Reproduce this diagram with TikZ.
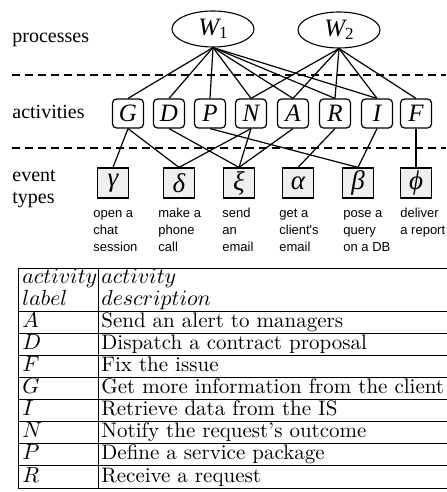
\documentclass[tikz,border=0pt]{standalone}
\usepackage{fontspec}
\newfontfamily\tmsfont{Liberation Serif}
\newfontfamily\hlvfont{Liberation Sans}
\usetikzlibrary{shapes.geometric}
\definecolor{evgray}{HTML}{EFEFEF}
\begin{document}
\begin{tikzpicture}[x=0.5pt,y=-0.5pt,
  proc/.style={ellipse, draw, line width=0.55pt, minimum width=41pt,
    minimum height=18pt, inner sep=0pt},
  actbox/.style={draw, rounded corners=2pt, minimum width=15.5pt,
    minimum height=14.5pt, inner sep=0pt, line width=0.6pt,
    font=\tmsfont\itshape\fontsize{12.5}{14}\selectfont},
  evbox/.style={draw, fill=evgray, minimum width=15.5pt, minimum height=15pt,
    inner sep=0pt, line width=0.6pt,
    font=\tmsfont\itshape\fontsize{13.5}{14}\selectfont},
  link/.style={line width=0.6pt},
  layer/.style={dash pattern=on 4pt off 2.5pt, line width=0.65pt},
  tier/.style={font=\tmsfont\fontsize{10}{11}\selectfont, align=left,
    anchor=north west, inner sep=0pt},
  evdesc/.style={font=\hlvfont\fontsize{6.5}{8.5}\selectfont, align=left,
    anchor=north west, inner sep=0pt},
  cell/.style={anchor=base west, inner sep=0pt,
    font=\fontsize{10.5}{12}\selectfont},
  rulel/.style={line width=0.45pt}]
\useasboundingbox (0,0) rectangle (446,492);

% layer names
\node[tier] (tproc) at (12,26.6) {\strut processes};
\node[tier] (tact)  at (12,102.6) {\strut activities};
\node[tier] (tev)   at (12,165.6) {\strut event\\types};

% layer separators
\coordinate (s1a) at (12,75);  \coordinate (s1b) at (446,75);
\coordinate (s2a) at (12,148); \coordinate (s2b) at (446,148);
\draw[layer] (s1a) -- (s1b);
\draw[layer] (s2a) -- (s2b);

% processes
\newcommand{\procname}[1]{{\tmsfont\fontsize{12.5}{14}\selectfont\itshape W}%
  \raisebox{-1.5pt}{\tmsfont\fontsize{8.5}{9}\selectfont #1}}
\node[proc] (W1) at (213,29) {\procname{1}};
\node[proc] (W2) at (339,30) {\procname{2}};

% activities
\foreach \n/\x in {G/128,D/169,P/210,N/251,A/293,R/335,I/377,F/416}
  \node[actbox] (\n) at (\x,113.5) {\n};

% event types
\node[evbox] (gam) at (113,183) {γ};
\node[evbox] (del) at (179,183) {δ};
\node[evbox] (xi)  at (239,183) {ξ};
\node[evbox] (alp) at (298,183) {α};
\node[evbox] (bet) at (358,183) {β};
\node[evbox] (phi) at (416,183) {ϕ};

% process -> activity
\foreach \a in {G,D,P,N,A,R,I}
  \draw[link] (W1.south) -- (\a.north);
\foreach \a in {N,A,R,I,F}
  \draw[link] (W2.south) -- (\a.north);

% activity -> event type
\draw[link] (G.south) -- (gam.north);
\draw[link] (G.south) -- (del.north);
\draw[link] (D.south) -- (xi.north);
\draw[link] (P.south) -- (bet.north);
\draw[link] (N.south) -- (del.north);
\draw[link] (N.south) -- (xi.north);
\draw[link] (A.south) -- (xi.north);
\draw[link] (R.south) -- (alp.north);
\draw[link] (I.south) -- (bet.north);
\draw[link] (F.south) -- (phi.north);

% event type descriptions
\node[evdesc] (dgam) at (93,205.1)  {\strut open a\\chat\\session};
\node[evdesc] (ddel) at (158,205.1) {\strut make a\\phone\\call};
\node[evdesc] (dxi)  at (222,205.1) {\strut send\\an\\email};
\node[evdesc] (dalp) at (279,205.1) {\strut get a\\client's\\email};
\node[evdesc] (dbet) at (343,205.1) {\strut pose a\\query\\on a DB};
\node[evdesc] (dphi) at (400,205.1) {\strut deliver\\a report};

% legend table
\draw[rulel] (18,268) -- (450,268);
\draw[rulel] (18,311) -- (450,311);
\foreach \k in {1,...,8}
  \draw[rulel] (18,311+22.125*\k) -- (450,311+22.125*\k);
\draw[rulel] (18,268) -- (18,488);
\draw[rulel] (98,268) -- (98,488);
\draw[rulel] (450,268) -- (450,488);

\node[cell] (h1) at (22,283)  {$activity$};
\node[cell] (h2) at (22,305)  {$label$};
\node[cell] (h3) at (101,283) {$activity$};
\node[cell] (h4) at (101,305) {$description$};

\foreach \k/\l/\d in {1/A/Send an alert to managers,
                      2/D/Dispatch a contract proposal,
                      3/F/Fix the issue,
                      4/G/Get more information from the client,
                      5/I/Retrieve data from the IS,
                      6/N/Notify the request's outcome,
                      7/P/Define a service package,
                      8/R/Receive a request}{
  \node[cell] (lab\k) at (22,311+22.125*\k-6) {$\l$};
  \node[cell] (txt\k) at (101,311+22.125*\k-6) {\d};
}
\end{tikzpicture}
\end{document}
